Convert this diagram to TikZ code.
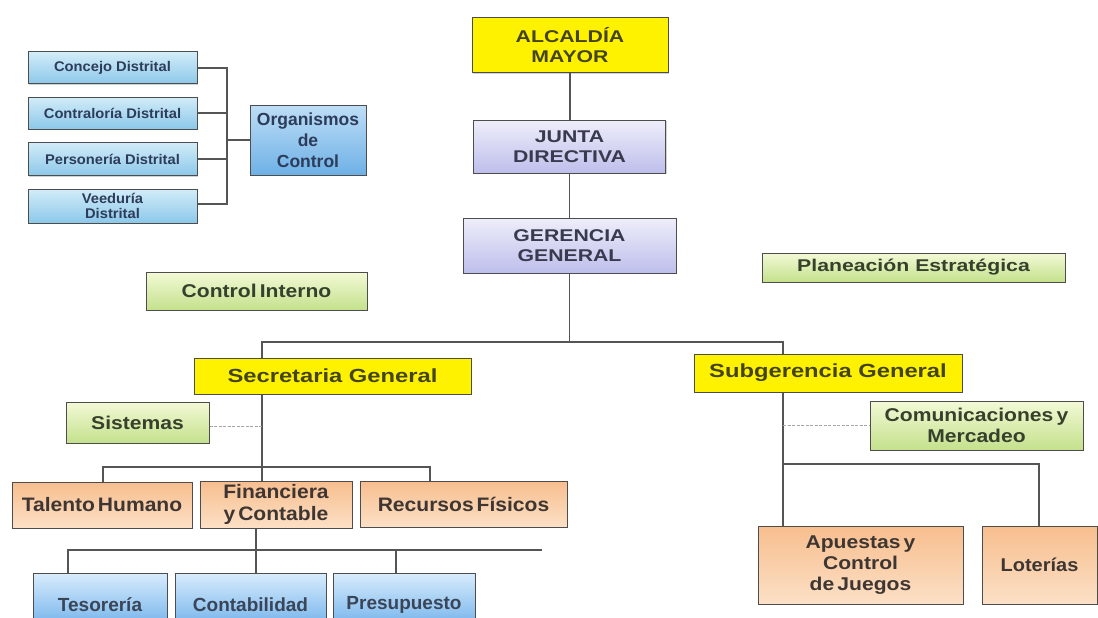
\documentclass[tikz,border=0pt]{standalone}
\usepackage{fontspec}
\setmainfont{Liberation Sans}
\newfontfamily\fw[FakeStretch=1.25]{Liberation Sans}
\newfontfamily\fm[FakeStretch=1.14,WordSpace=0.55]{Liberation Sans}
\newfontfamily\fo[FakeStretch=1.08,WordSpace=0.5]{Liberation Sans}
\newfontfamily\fn{Liberation Sans}
\newfontfamily\fl[FakeStretch=1.05]{Liberation Sans}
\usetikzlibrary{shadows}
\definecolor{bord}{HTML}{4D4D4D}
\definecolor{conncol}{HTML}{555555}
\definecolor{toptext}{HTML}{3A3A4E}
\definecolor{ytext}{HTML}{44441A}
\definecolor{otext}{HTML}{3E3632}
\definecolor{gtext}{HTML}{36402C}
\definecolor{btext}{HTML}{3A4658}
\definecolor{ltext}{HTML}{2C3C5A}
\begin{document}
\begin{tikzpicture}[x=1pt,y=-1pt,
  base/.style={draw=bord, line width=1pt, inner sep=0pt, align=center,
    drop shadow={shadow xshift=1.2pt, shadow yshift=-1.2pt, opacity=0.35}},
  topbox/.style={base, top color={rgb,255:red,238;green,238;blue,250}, bottom color={rgb,255:red,190;green,190;blue,236},
    text=toptext, font=\fw\bfseries\fontsize{17}{20}\selectfont},
  ybox/.style={base, fill=yellow, text=ytext,
    font=\fw\bfseries\fontsize{19}{22}\selectfont},
  alcbox/.style={ybox, font=\fw\bfseries\fontsize{17}{20}\selectfont},
  obox/.style={base, top color={rgb,255:red,247;green,190;blue,142}, bottom color={rgb,255:red,252;green,224;blue,198},
    text=otext, font=\fo\bfseries\fontsize{19.5}{22}\selectfont},
  gbox/.style={base, top color={rgb,255:red,243;green,249;blue,214}, bottom color={rgb,255:red,196;green,225;blue,140},
    text=gtext, font=\fm\bfseries\fontsize{18.5}{21}\selectfont},
  bbox/.style={base, top color={rgb,255:red,216;green,236;blue,252}, bottom color={rgb,255:red,96;green,168;blue,232},
    text=btext, font=\fn\bfseries\fontsize{19}{22}\selectfont},
  lbox/.style={base, top color={rgb,255:red,210;green,236;blue,248}, bottom color={rgb,255:red,140;green,200;blue,234},
    text=ltext, font=\fl\bfseries\fontsize{14}{15}\selectfont},
  orgbox/.style={base, top color={rgb,255:red,190;green,222;blue,246}, bottom color={rgb,255:red,110;green,176;blue,230},
    text=ltext, font=\fn\bfseries\fontsize{17.5}{21}\selectfont},
  conn/.style={draw=conncol, line width=1.1pt},
  dotconn/.style={draw=black!35, line width=0.9pt, dash pattern=on 3pt off 1.5pt}]
\useasboundingbox (0,0) rectangle (1098,618);
\clip (0,0) rectangle (1098,618);
\fill[white] (0,0) rectangle (1098,618);

% left column
\node[lbox, minimum width=169pt, minimum height=32pt] (conc) at (112.5,68) {Concejo Distrital};
\node[lbox, minimum width=169pt, minimum height=32pt] (contr) at (112.5,113) {Contraloría Distrital};
\node[lbox, minimum width=169pt, minimum height=33pt] (pers) at (112.5,159) {Personería Distrital};
\node[lbox, minimum width=169pt, minimum height=34pt] (veed) at (112.5,206) {Veeduría\\Distrital};
\node[orgbox, minimum width=116pt, minimum height=70pt] (org) at (308,140) {Organismos\\de\\Control};
\coordinate (brT) at (227,68);
\coordinate (brB) at (227,204);
\draw[conn] (conc.east) -- (brT) -- (brB) -- (brB -| veed.east);
\draw[conn] (contr.east) -- (contr.east -| brT);
\draw[conn] (pers.east) -- (pers.east -| brT);
\draw[conn] (org.west) -- (org.west -| brT);

% top column
\node[alcbox, minimum width=196pt, minimum height=55pt] (alc) at (570,45.5) {ALCALDÍA\\MAYOR};
\node[topbox, minimum width=192pt, minimum height=53pt] (junta) at (569.5,146.5) {JUNTA\\DIRECTIVA};
\node[topbox, minimum width=213pt, minimum height=55pt] (ger) at (569.5,245.5) {GERENCIA\\GENERAL};
\draw[conn] (alc.south) -- (alc.south |- junta.north);
\draw[conn] (junta.south) -- (junta.south |- ger.north);

\node[gbox, minimum width=221pt, minimum height=38pt] (ci) at (256.5,291) {Control Interno};
\node[gbox, minimum width=303pt, minimum height=29pt, font=\fw\bfseries\fontsize{17}{20}\selectfont] (plan) at (913.5,267.5) {Planeación Estratégica};

% second level
\node[ybox, minimum width=277pt, minimum height=36pt] (sec) at (332.5,376) {Secretaria General};
\node[ybox, minimum width=268pt, minimum height=38pt] (sub) at (828,373) {Subgerencia General};
\coordinate (hL) at (262,342);
\coordinate (hR) at (783,342);
\draw[conn] (ger.south) -- (ger.south |- hL);
\draw[conn] (hL |- sec.north) -- (hL) -- (hR) -- (hR |- sub.north);

% secretaria branch
\node[gbox, minimum width=143pt, minimum height=41pt] (sis) at (137.5,422.5) {Sistemas};
\node[obox, minimum width=180pt, minimum height=46pt] (tal) at (102,505) {Talento Humano};
\node[obox, minimum width=152pt, minimum height=47pt] (fin) at (276,504.5) {Financiera\\y Contable};
\node[obox, minimum width=207pt, minimum height=46pt] (rec) at (463.5,504) {Recursos Físicos};
\coordinate (sv) at (262,467);
\coordinate (sl) at (103,467);
\coordinate (sr) at (430,467);
\draw[conn] (sv |- sec.south) -- (sv);
\draw[conn] (sl |- tal.north) -- (sl) -- (sr) -- (sr |- rec.north);
\draw[conn] (sv) -- (sv |- fin.north);
\draw[dotconn] (sis.east |- 0,426) -- (262,426);

\node[bbox, minimum width=134pt, minimum height=64pt] (tes) at (100,605) {Tesorería};
\node[bbox, minimum width=151pt, minimum height=64pt] (cont) at (250.5,605) {Contabilidad};
\node[bbox, minimum width=142pt, minimum height=64pt] (pres) at (404,605) {Presupuesto};
\coordinate (fv) at (256,550);
\coordinate (fl) at (68,550);
\coordinate (fr) at (542,550);
\coordinate (fp) at (396,550);
\draw[conn] (fv |- fin.south) -- (fv);
\draw[conn] (fl |- tes.north) -- (fl) -- (fr);
\draw[conn] (fv) -- (fv |- cont.north);
\draw[conn] (fp) -- (fp |- pres.north);

% subgerencia branch
\node[gbox, minimum width=213pt, minimum height=49pt] (com) at (976.5,425.5) {Comunicaciones y\\Mercadeo};
\node[obox, minimum width=205pt, minimum height=78pt, font=\fm\bfseries\fontsize{18.5}{21}\selectfont] (apu) at (860.5,565) {Apuestas y\\Control\\de Juegos};
\node[obox, minimum width=115pt, minimum height=78pt, font=\fo\bfseries\fontsize{18.5}{21}\selectfont] (lot) at (1039.5,565) {Loterías};
\coordinate (uv) at (783,464);
\coordinate (ur) at (1039,464);
\draw[conn] (uv |- sub.south) -- (uv) -- (uv |- apu.north);
\draw[conn] (uv) -- (ur) -- (ur |- lot.north);
\draw[dotconn] (uv |- com.west) -- (com.west);
\end{tikzpicture}
\end{document}
